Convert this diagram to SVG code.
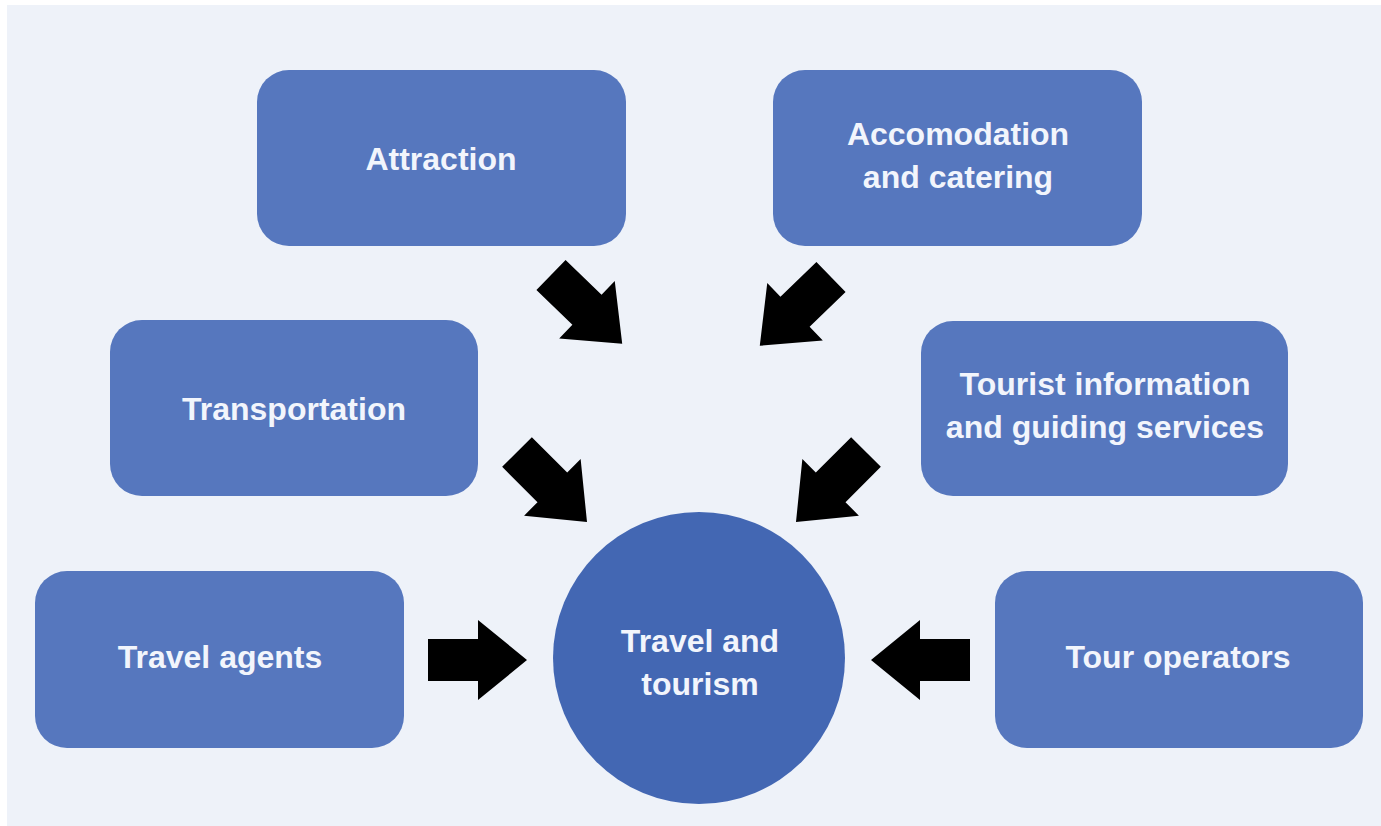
<svg xmlns="http://www.w3.org/2000/svg" width="1381" height="826" viewBox="0 0 1381 826">
<defs>
<style>
.box{fill:#5677BE;}
.hub{fill:#4367B3;}
.lbl{font-family:"Liberation Sans",Arial,sans-serif;font-weight:bold;font-size:32px;fill:#F2F5FC;text-anchor:middle;}
.arr{fill:#000000;}
</style>
<path id="blk" d="M0,-21 H50 V-40 L99,0 L50,40 V21 H0 Z"/>
</defs>
<rect x="0" y="0" width="1381" height="826" fill="#FFFFFF"/>
<rect x="7" y="5" width="1374" height="821" fill="#EEF2F9"/>
<g id="attraction">
<rect class="box" x="257" y="70" width="369" height="176" rx="32"/>
<text class="lbl" x="441" y="170">Attraction</text>
</g>
<g id="accommodation">
<rect class="box" x="773" y="70" width="369" height="176" rx="32"/>
<text class="lbl" x="958" y="145">Accomodation</text>
<text class="lbl" x="958" y="188">and catering</text>
</g>
<g id="transportation">
<rect class="box" x="110" y="320" width="368" height="176" rx="32"/>
<text class="lbl" x="294" y="420">Transportation</text>
</g>
<g id="tourist-info">
<rect class="box" x="921" y="321" width="367" height="175" rx="32"/>
<text class="lbl" x="1105" y="395">Tourist information</text>
<text class="lbl" x="1105" y="438">and guiding services</text>
</g>
<g id="travel-agents">
<rect class="box" x="35" y="571" width="369" height="177" rx="32"/>
<text class="lbl" x="220" y="668">Travel agents</text>
</g>
<g id="tour-operators">
<rect class="box" x="995" y="571" width="368" height="177" rx="32"/>
<text class="lbl" x="1178" y="668">Tour operators</text>
</g>
<g id="travel-tourism">
<circle class="hub" cx="699" cy="658" r="146"/>
<text class="lbl" x="700" y="652">Travel and</text>
<text class="lbl" x="700" y="695">tourism</text>
</g>
<g id="connectors">
<use href="#blk" class="arr" transform="translate(551,275) rotate(44)"/>
<use href="#blk" class="arr" transform="translate(831,277) rotate(136)"/>
<use href="#blk" class="arr" transform="translate(517,452) rotate(45)"/>
<use href="#blk" class="arr" transform="translate(866,452) rotate(135)"/>
<use href="#blk" class="arr" transform="translate(428,660)"/>
<use href="#blk" class="arr" transform="translate(970,660) rotate(180)"/>
</g>
</svg>
